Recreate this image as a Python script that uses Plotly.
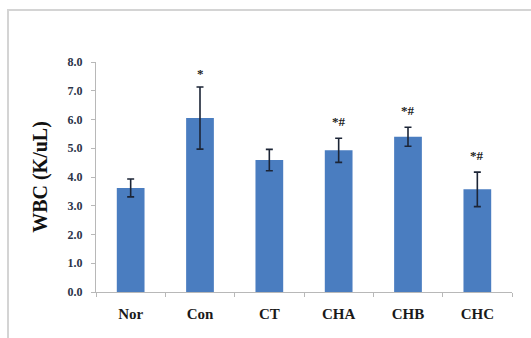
import plotly.graph_objects as go

groups = ["Nor", "Con", "CT", "CHA", "CHB", "CHC"]
wbc_mean = [3.62, 6.05, 4.59, 4.93, 5.40, 3.57]
wbc_sd = [0.31, 1.08, 0.37, 0.42, 0.33, 0.60]
marks = ["", "*", "", "*#", "*#", "*#"]
y_ticks = [0, 1, 2, 3, 4, 5, 6, 7, 8]

serif = "Liberation Serif, Times New Roman, serif"
axis_grey = "#b8b8b8"

fig = go.Figure(
    go.Bar(
        x=groups,
        y=wbc_mean,
        marker=dict(color="#4a7dc0", line=dict(width=0)),
        error_y=dict(type="data", array=wbc_sd, visible=True,
                     color="#1c2536", thickness=1.6, width=3.5),
    )
)

for g, m, s, lab in zip(groups, wbc_mean, wbc_sd, marks):
    if lab:
        fig.add_annotation(x=g, y=m + s, text=lab, showarrow=False,
                           yanchor="bottom", yshift=7 if lab != "*" else 4,
                           font=dict(family=serif, size=13, color="#222222",
                                     weight="bold"))

# light frame around the chart area
fig.add_shape(type="rect", xref="paper", yref="paper",
              x0=-0.2115, x1=1.06, y0=-0.4, y1=1.226,
              line=dict(color="#d4d4d4", width=2), layer="below")

fig.update_layout(
    width=531, height=338,
    margin=dict(l=96, r=19, t=62, b=46),
    paper_bgcolor="white", plot_bgcolor="white",
    showlegend=False,
    bargap=0.6,
    xaxis=dict(
        showline=True, linecolor=axis_grey, linewidth=1,
        ticks="outside", tickson="boundaries", ticklen=4, tickcolor=axis_grey,
        ticklabelstandoff=8,
        tickfont=dict(family=serif, size=15, color="#1a1a1a", weight="bold"),
        showgrid=False, zeroline=False,
    ),
    yaxis=dict(
        range=[0, 8], tickvals=y_ticks, tickformat=".1f",
        showline=True, linecolor=axis_grey, linewidth=1,
        ticks="outside", ticklen=4, tickcolor=axis_grey,
        ticklabelstandoff=6,
        tickfont=dict(family=serif, size=12, color="#2b3348", weight="bold"),
        showgrid=False, zeroline=False,
        title=dict(text="WBC (K/uL)", standoff=14,
                   font=dict(family=serif, size=20, color="#111111",
                             weight="bold")),
    ),
)

fig.write_html("out.html")
